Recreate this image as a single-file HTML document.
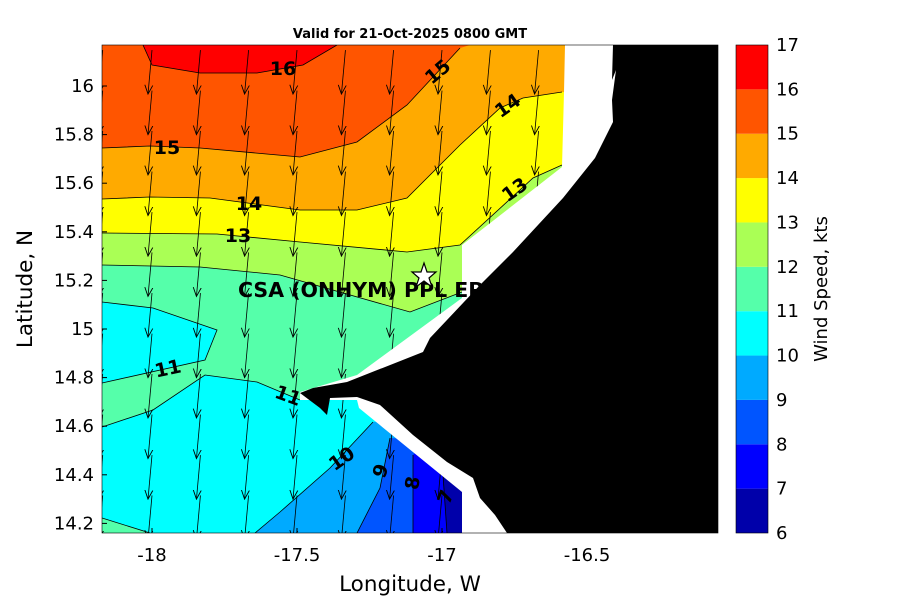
<!DOCTYPE html>
<html><head><meta charset="utf-8"><style>
body{margin:0;background:#fff}
svg{display:block;font-family:"DejaVu Sans","Liberation Sans",sans-serif}
</style></head><body>
<svg id="c" width="900" height="600" viewBox="0 0 900 600">
<defs><clipPath id="pc"><rect x="102" y="45" width="616" height="488"/></clipPath>
<marker id="ah" markerWidth="10" markerHeight="10" refX="9" refY="5" orient="auto" markerUnits="userSpaceOnUse"><path d="M0,1 L9,5 L0,9" fill="none" stroke="#000" stroke-width="0.9"/></marker></defs>
<text x="410" y="38" text-anchor="middle" font-size="13" font-weight="bold">Valid for 21-Oct-2025 0800 GMT</text>
<g clip-path="url(#pc)">
<rect x="102" y="45" width="616" height="488" fill="#00ffff"/>
<polygon fill="#55ffaa" points="102,302 153,308 217,330 205,360 102,383 102,427 153,410 205,375 257,382 300,400 360,400 470,290 470,265 102,265"/>
<polygon fill="#55ffaa" points="102,518 150,533 102,533"/>
<polygon fill="#aaff55" points="102,45 600,45 600,165 540,190 462,292 410,312 280,275 200,267 102,265"/>
<polygon fill="#ffff00" points="102,45 600,45 600,160 562,165 533,178 460,245 407,252 300,242 217,234 102,233"/>
<polygon fill="#ffaa00" points="102,45 600,45 600,92 562,92 523,98 500,108 460,145 407,198 357,210 300,210 210,198 150,197 102,199"/>
<polygon fill="#ff5500" points="102,45 470,45 460,48 407,105 357,142 300,157 200,148 150,146 102,148"/>
<polygon fill="#ff0000" points="143,45 152,65 200,73 257,73 303,65 337,45"/>
<polygon fill="#00aaff" points="255,533 280,512 330,468 373,422 400,420 480,480 480,533"/>
<polygon fill="#0055ff" points="357,533 380,488 390,438 430,440 480,480 480,533"/>
<polygon fill="#0000ff" points="413,533 413,455 430,440 480,480 480,533"/>
<polygon fill="#0000aa" points="447,533 443,475 470,480 470,533"/>
<g fill="none" stroke="#000" stroke-width="0.8">
<polyline points="143,45 152,65 200,73 257,73 303,65 337,45"/>
<polyline points="102,148 150,146 200,148 300,157 357,142 407,105 460,48"/>
<polyline points="102,199 150,197 210,198 300,210 357,210 407,198 460,145 500,108 523,98 562,92"/>
<polyline points="102,233 217,234 300,242 407,252 460,245 533,178 562,165"/>
<polyline points="102,265 200,267 280,275 410,312 462,292"/>
<polyline points="102,302 153,308 217,330 205,360 102,383"/>
<polyline points="102,427 153,410 205,375 257,382 300,400"/>
<polyline points="102,518 150,533"/>
<polyline points="255,533 280,512 330,468 373,422"/>
<polyline points="357,533 380,488 390,438"/>
<polyline points="413,533 413,455"/>
<polyline points="447,533 443,475"/>
</g>
<g id="arrows"></g>
<polygon fill="#fff" points="565,45 564,92 562,167 462,245 462,298 357,375 300,392 300,400 357,400 359,408 462,492 462,533 718,533 718,45"/>
<polygon fill="#000" points="613,45 612,80 616,70 612,100 613,122 595,158 563,198 513,252 480,285 430,338 423,352 347,382 313,388 300,393 320,408 327,415 330,398 357,397 380,405 413,435 447,462 473,478 480,498 495,515 507,533 718,533 718,45"/>
</g>
<g font-size="19" font-weight="bold">
<text x="283" y="75" text-anchor="middle">16</text>
<text x="438" y="78" text-anchor="middle" transform="rotate(-40 438 72)">15</text>
<text x="167" y="154" text-anchor="middle">15</text>
<text x="508" y="112" text-anchor="middle" transform="rotate(-35 508 106)">14</text>
<text x="249" y="210" text-anchor="middle">14</text>
<text x="515" y="196" text-anchor="middle" transform="rotate(-35 515 190)">13</text>
<text x="238" y="242" text-anchor="middle">13</text>
<text x="168" y="375" text-anchor="middle" transform="rotate(-12 168 369)">11</text>
<text x="288" y="402" text-anchor="middle" transform="rotate(20 288 396)">11</text>
<text x="342" y="465" text-anchor="middle" transform="rotate(-35 342 459)">10</text>
<text x="381" y="477" text-anchor="middle" transform="rotate(-70 381 471)">9</text>
<text x="413" y="489" text-anchor="middle" transform="rotate(-80 413 483)">8</text>
<text x="446" y="503" text-anchor="middle" transform="rotate(-70 446 497)">7</text>
<text x="238" y="297" font-size="20.5">CSA (ONHYM) PPL EP</text>
</g>
<polygon fill="#fff" stroke="#000" stroke-width="1.2" points="424,263 427,272 436,272 429,278 432,287 424,281 416,287 419,278 412,272 421,272"/>
<rect x="102" y="45" width="616" height="488" fill="none" stroke="#000" stroke-width="0.6"/>
<g id="xt" font-size="18"></g>
<g id="yt" font-size="18"></g>
<text x="410" y="591" text-anchor="middle" font-size="21.5">Longitude, W</text>
<text x="32" y="289" text-anchor="middle" font-size="21.5" transform="rotate(-90 32 289)">Latitude, N</text>
<g id="cb"></g>
<text x="827" y="289" text-anchor="middle" font-size="18" transform="rotate(-90 827 289)">Wind Speed, kts</text>
</svg>
<script>
const xTicks=[-18,-17.5,-17,-16.5];
const yTicks=[14.2,14.4,14.6,14.8,15,15.2,15.4,15.6,15.8,16];
const cbLevels=[6,7,8,9,10,11,12,13,14,15,16,17];
const cbColors=["#0000aa","#0000ff","#0055ff","#00aaff","#00ffff","#55ffaa","#aaff55","#ffff00","#ffaa00","#ff5500","#ff0000"];
const arrowLons=[-18.17,-18,-17.833,-17.667,-17.5,-17.333,-17.167,-17,-16.833,-16.667];
const arrowLats=[16.148,15.981,15.815,15.648,15.481,15.315,15.148,14.981,14.815,14.648,14.481,14.315];
const NS="http://www.w3.org/2000/svg";
const X=v=>152+(v+18)*290, Y=v=>86-(v-16)*243;
const CB=v=>533-(v-6)*(488/11);
const xt=document.getElementById('xt'),yt=document.getElementById('yt'),cb=document.getElementById('cb'),ar=document.getElementById('arrows');
function mk(t,a,p){const e=document.createElementNS(NS,t);for(const k in a)e.setAttribute(k,a[k]);p.appendChild(e);return e;}
xTicks.forEach(v=>{const t=mk('text',{x:X(v),y:561,'text-anchor':'middle'},xt);t.textContent=v;


mk('line',{x1:X(v),x2:X(v),y1:533,y2:528,stroke:'#000'},xt);});
yTicks.forEach(v=>{const t=mk('text',{x:94,y:Y(v)+6,'text-anchor':'end'},yt);t.textContent=v;


mk('line',{x1:102,x2:107,y1:Y(v),y2:Y(v),stroke:'#000'},yt);});
cbColors.forEach((c,i)=>{const r=mk('rect',{x:736,y:CB(cbLevels[i+1]),width:32,height:CB(cbLevels[i])-CB(cbLevels[i+1]),fill:c},cb);

});
mk('rect',{x:736,y:45,width:32,height:488,fill:'none',stroke:'#000','stroke-width':0.6},cb);
cbLevels.forEach(v=>{const t=mk('text',{x:776,y:CB(v)+6,'font-size':18},cb);t.textContent=v;

});
arrowLons.forEach(lo=>arrowLats.forEach(la=>{const x=X(lo),y=Y(la);
const l=mk('line',{x1:x,y1:y,x2:x-4,y2:y+44,stroke:'#000','stroke-width':0.8,'marker-end':'url(#ah)'},ar);

}));
</script>
</body></html>
